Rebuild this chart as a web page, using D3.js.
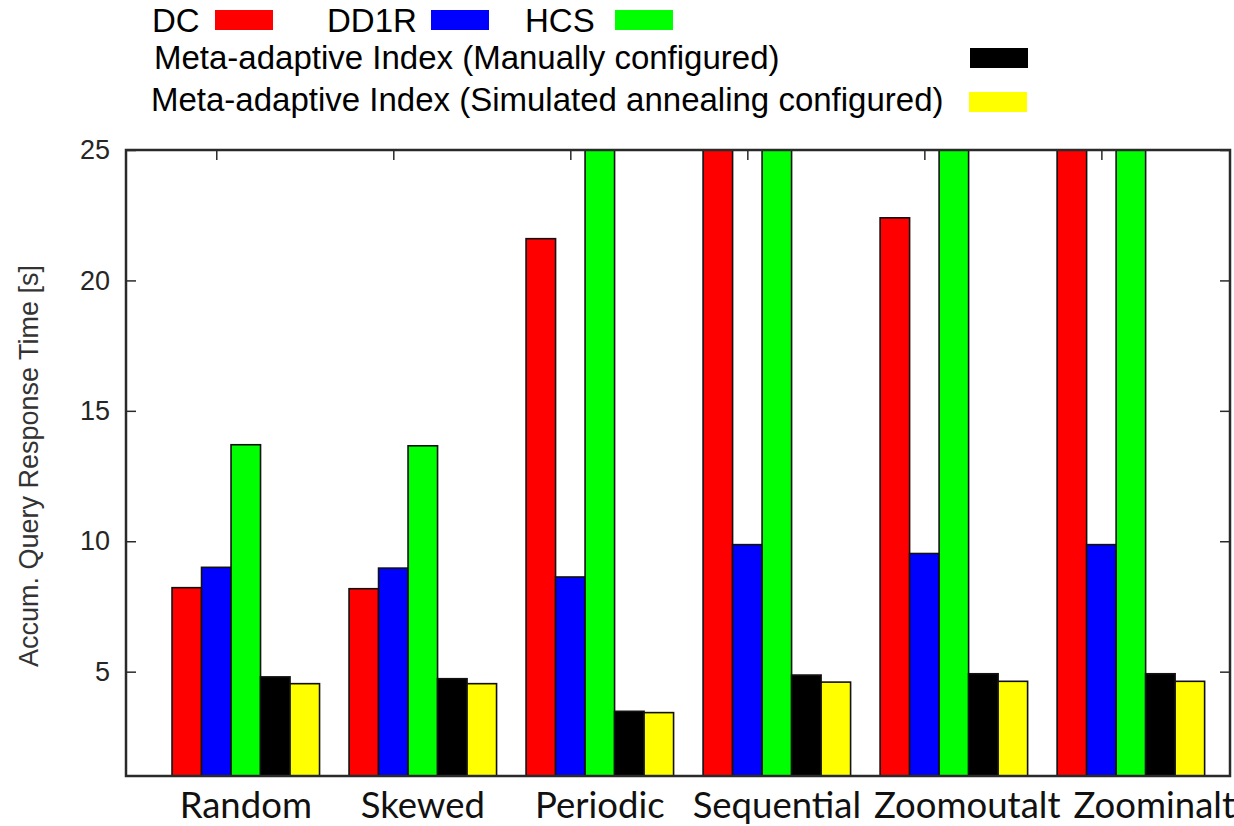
<!DOCTYPE html>
<html>
<head>
<meta charset="utf-8">
<script src="https://cdn.jsdelivr.net/npm/d3@7/dist/d3.min.js"></script>
<style>
  html, body { margin: 0; padding: 0; background: #fff; }
  svg { display: block; }
</style>
</head>
<body>
<svg id="chart" width="1234" height="826"></svg>
<script>
// Workload patterns on the x axis
const categories = ["Random", "Skewed", "Periodic", "Sequential", "Zoomoutalt", "Zoominalt"];

// Series names (legend order)
const seriesNames = [
  "DC",
  "DD1R",
  "HCS",
  "Meta-adaptive Index (Manually configured)",
  "Meta-adaptive Index (Simulated annealing configured)"
];

// Accumulated query response time [s]; values above 25 run off the top of the plot
const dcValues        = [8.22, 8.18, 21.6, 30.0, 22.4, 30.0];
const dd1rValues      = [9.00, 8.97, 8.63, 9.87, 9.53, 9.87];
const hcsValues       = [13.70, 13.66, 30.0, 30.0, 30.0, 30.0];
const manualValues    = [4.80, 4.73, 3.48, 4.87, 4.92, 4.92];
const annealingValues = [4.54, 4.54, 3.43, 4.60, 4.63, 4.63];

const seriesColors = ["#ff0000", "#0000ff", "#00ff00", "#000000", "#ffff00"];

const yTickValues = [5, 10, 15, 20, 25];

const series = [dcValues, dd1rValues, hcsValues, manualValues, annealingValues];

// ---- layout ----
const plot = { left: 126, right: 1230, top: 150, bottom: 776 };
const slotsPerGroup = series.length + 1;   // one empty slot between clusters

const svg = d3.select("#chart");

// x: one unit per bar slot
const x = d3.scaleLinear()
  .domain([-1.56, 35.86])
  .range([plot.left, plot.right]);

const y = d3.scaleLinear()
  .domain([1, 25])
  .range([plot.bottom, plot.top]);

const slot = (gi, si) => gi * slotsPerGroup + si;
const tickSlots = categories.map((c, gi) => slot(gi, 1) + 0.5);

// clip region for bars that exceed the range
svg.append("defs").append("clipPath").attr("id", "plotClip")
  .append("rect")
  .attr("x", plot.left).attr("y", plot.top)
  .attr("width", plot.right - plot.left).attr("height", plot.bottom - plot.top);

// ---- axes (ticks point inwards, mirrored on all sides) ----
const axisColor = "#2a2a2a";

const leftAxis = svg.append("g")
  .attr("transform", `translate(${plot.left},0)`)
  .call(d3.axisLeft(y).tickValues(yTickValues).tickSize(-10).tickPadding(16).tickFormat(d3.format("d")));

const rightAxis = svg.append("g")
  .attr("transform", `translate(${plot.right},0)`)
  .call(d3.axisRight(y).tickValues(yTickValues).tickSize(-10).tickFormat(""));

const topAxis = svg.append("g")
  .attr("transform", `translate(0,${plot.top})`)
  .call(d3.axisTop(x).tickValues(tickSlots).tickSize(-10).tickFormat(""));

const bottomAxis = svg.append("g")
  .attr("transform", `translate(0,${plot.bottom})`)
  .call(d3.axisBottom(x).tickValues(tickSlots).tickSize(-10).tickFormat(""));

[leftAxis, rightAxis, topAxis, bottomAxis].forEach(g => {
  g.select(".domain").remove();
  g.selectAll(".tick line").attr("stroke", axisColor).attr("stroke-width", 1.5);
});

leftAxis.selectAll(".tick text")
  .attr("font-family", "'Liberation Sans', Arial, sans-serif")
  .attr("font-size", 27)
  .attr("fill", "#262626");

// ---- bars ----
const barData = [];
categories.forEach((cat, gi) => {
  series.forEach((vals, si) => {
    barData.push({ cat, gi, si, value: vals[gi] });
  });
});

svg.append("g")
  .attr("clip-path", "url(#plotClip)")
  .selectAll("rect")
  .data(barData)
  .join("rect")
  .attr("x", d => x(slot(d.gi, d.si)))
  .attr("width", d => x(slot(d.gi, d.si) + 1) - x(slot(d.gi, d.si)))
  .attr("y", d => y(d.value))
  .attr("height", d => y(1) - y(d.value))
  .attr("fill", d => seriesColors[d.si])
  .attr("stroke", "#111")
  .attr("stroke-width", 1.6);

// plot frame
svg.append("rect")
  .attr("x", plot.left).attr("y", plot.top)
  .attr("width", plot.right - plot.left).attr("height", plot.bottom - plot.top)
  .attr("fill", "none")
  .attr("stroke", axisColor)
  .attr("stroke-width", 2.5);

// ---- category labels: centred under each cluster, nudged right where they would collide ----
const catLabels = svg.append("g")
  .selectAll("text")
  .data(categories)
  .join("text")
  .attr("x", (d, gi) => (x(slot(gi, 0)) + x(slot(gi, series.length))) / 2)
  .attr("y", 818)
  .attr("text-anchor", "middle")
  .attr("font-family", "Lato, 'Open Sans', sans-serif")
  .attr("font-size", 36.5)
  .attr("fill", "#111")
  .text(d => d);

const minGap = 13;
let prevRight = -Infinity;
catLabels.each(function () {
  const t = d3.select(this);
  const w = this.getComputedTextLength();
  let cx = +t.attr("x");
  if (cx - w / 2 < prevRight + minGap) cx = prevRight + minGap + w / 2;
  t.attr("x", cx);
  prevRight = cx + w / 2;
});

// ---- y axis title ----
svg.append("text")
  .attr("transform", "translate(38,466) rotate(-90)")
  .attr("text-anchor", "middle")
  .attr("font-family", "'Liberation Sans', Arial, sans-serif")
  .attr("font-size", 27)
  .attr("fill", "#333")
  .text("Accum. Query Response Time [s]");

// ---- legend ----
const legendLayout = [
  { tx: 152, ty: 32,  sx: 215, sy: 10 },
  { tx: 327, ty: 32,  sx: 431, sy: 10 },
  { tx: 525, ty: 32,  sx: 615, sy: 10 },
  { tx: 154, ty: 69,  sx: 970, sy: 48 },
  { tx: 151, ty: 111, sx: 969, sy: 92 }
];

const legend = svg.append("g").attr("class", "legend");
seriesNames.forEach((name, i) => {
  const L = legendLayout[i];
  legend.append("text")
    .attr("x", L.tx).attr("y", L.ty)
    .attr("font-family", "'Liberation Sans', Arial, sans-serif")
    .attr("font-size", 33)
    .attr("fill", "#000")
    .text(name);
  legend.append("rect")
    .attr("x", L.sx).attr("y", L.sy)
    .attr("width", 58).attr("height", 20)
    .attr("fill", seriesColors[i]);
});
</script>
</body>
</html>
